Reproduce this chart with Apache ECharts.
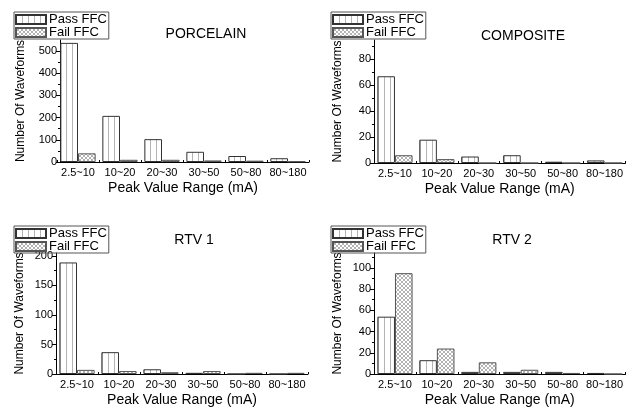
<!DOCTYPE html>
<html>
<head>
<meta charset="utf-8">
<script src="https://cdn.jsdelivr.net/npm/echarts@6/dist/echarts.min.js"></script>
<style>html,body{margin:0;padding:0;background:#fff}#c{width:626px;height:408px}</style>
</head>
<body>
<div id="c"></div>
<script>
const categories = ['2.5~10', '10~20', '20~30', '30~50', '50~80', '80~180'];
const panelTitles = ['PORCELAIN', 'COMPOSITE', 'RTV 1', 'RTV 2'];
const porcelainPass = [537, 208, 103, 46, 27, 17];
const porcelainFail = [39, 10, 10, 7, 6, 3];
const compositePass = [67, 18, 5, 6, 1, 2];
const compositeFail = [6, 3, 0, 0, 0, 0];
const rtv1Pass = [189, 37, 8, 2, 0, 0];
const rtv1Fail = [7, 5, 3, 5, 2, 2];
const rtv2Pass = [54, 13, 2, 2, 2, 1];
const rtv2Fail = [95, 24, 11, 4, 1, 0];
const porcelainTicks = [0, 100, 200, 300, 400, 500];
const compositeTicks = [0, 20, 40, 60, 80];
const rtv1Ticks = [0, 50, 100, 150, 200];
const rtv2Ticks = [0, 20, 40, 60, 80, 100];
const yMax = [550, 95, 205, 114];

const FONT = 'Liberation Sans, Arial, sans-serif';

function makePattern(kind) {
  const c = document.createElement('canvas');
  const s = kind === 'pass' ? 6 : 4;
  c.width = s; c.height = s;
  const g = c.getContext('2d');
  g.fillStyle = '#fff';
  g.fillRect(0, 0, s, s);
  if (kind === 'pass') {
    g.fillStyle = '#b4b4b4';
    g.fillRect(0, 0, 1, s);
  } else {
    g.strokeStyle = '#a0a0a0';
    g.lineWidth = 0.8;
    g.beginPath();
    g.moveTo(0, 0); g.lineTo(s, s);
    g.moveTo(s, 0); g.lineTo(0, s);
    g.stroke();
  }
  return { image: c, repeat: 'repeat' };
}
const passFill = makePattern('pass');
const failFill = makePattern('fail');

const panels = [
  { pass: porcelainPass, fail: porcelainFail, ticks: porcelainTicks, max: yMax[0],
    grid: { left: 57, top: 40, width: 252, height: 122 }, yOffset: -3, yGap: 33,
    legend: { left: 14, top: 12 }, title: [206, 34] },
  { pass: compositePass, fail: compositeFail, ticks: compositeTicks, max: yMax[1],
    grid: { left: 374, top: 40, width: 252, height: 123 }, yOffset: 0, yGap: 30,
    legend: { left: 331, top: 12 }, title: [523, 36] },
  { pass: rtv1Pass, fail: rtv1Fail, ticks: rtv1Ticks, max: yMax[2],
    grid: { left: 56, top: 253, width: 252, height: 122 }, yOffset: 0, yGap: 30,
    legend: { left: 14, top: 226 }, title: [194, 240] },
  { pass: rtv2Pass, fail: rtv2Fail, ticks: rtv2Ticks, max: yMax[3],
    grid: { left: 374, top: 253, width: 252, height: 122 }, yOffset: 0, yGap: 30,
    legend: { left: 331, top: 226 }, title: [512, 240] }
];

const option = {
  animation: false,
  backgroundColor: '#fff',
  textStyle: { fontFamily: FONT },
  grid: [], xAxis: [], yAxis: [], series: [], legend: [], graphic: []
};

panels.forEach((p, i) => {
  option.grid.push(Object.assign({ containLabel: false }, p.grid));
  const step = p.ticks[1] - p.ticks[0];
  const minor = [];
  for (let v = step / 2; v < p.max; v += step) minor.push(v);
  option.xAxis.push({
    gridIndex: i, type: 'category', data: categories,
    axisLine: { lineStyle: { color: '#000', width: 1 } },
    axisTick: { alignWithLabel: true, length: 4, lineStyle: { color: '#000' } },
    axisLabel: { interval: 0, fontSize: 11, color: '#000', margin: 5, fontFamily: FONT },
    name: 'Peak Value Range (mA)', nameLocation: 'middle', nameGap: 19,
    nameTextStyle: { fontSize: 14, color: '#000', fontFamily: FONT }
  });
  option.xAxis.push({
    gridIndex: i, type: 'value', min: 0, max: 6, interval: 1,
    axisLine: { show: false }, axisLabel: { show: false }, splitLine: { show: false },
    axisTick: { show: true, length: 2, lineStyle: { color: '#000' } }
  });
  option.yAxis.push({
    gridIndex: i, type: 'value', min: 0, max: p.max, position: 'left', offset: p.yOffset,
    axisLine: { show: true, lineStyle: { color: '#000', width: 1 } },
    axisTick: { show: true, length: 4, customValues: p.ticks, lineStyle: { color: '#000' } },
    axisLabel: { customValues: p.ticks, fontSize: 11, color: '#000', margin: 3, fontFamily: FONT },
    splitLine: { show: false },
    name: 'Number Of Waveforms', nameLocation: 'middle', nameGap: p.yGap,
    nameTextStyle: { fontSize: 12, color: '#000', fontFamily: FONT }
  });
  option.yAxis.push({
    gridIndex: i, type: 'value', min: 0, max: p.max, position: 'left', offset: p.yOffset,
    axisLine: { show: false }, axisLabel: { show: false }, splitLine: { show: false },
    axisTick: { show: true, length: 2, customValues: minor, lineStyle: { color: '#000' } }
  });
  const xi = i * 2, yi = i * 2;
  option.series.push({
    type: 'bar', name: 'Pass FFC', xAxisIndex: xi, yAxisIndex: yi, data: p.pass,
    barGap: '0%', barCategoryGap: '16%',
    itemStyle: { color: passFill, borderColor: '#333', borderWidth: 1 }
  });
  option.series.push({
    type: 'bar', name: 'Fail FFC', xAxisIndex: xi, yAxisIndex: yi, data: p.fail,
    barGap: '0%', barCategoryGap: '16%',
    itemStyle: { color: failFill, borderColor: '#555', borderWidth: 1 }
  });
  option.legend.push({
    left: p.legend.left, top: p.legend.top, orient: 'vertical',
    data: ['Pass FFC', 'Fail FFC'], icon: 'rect', itemWidth: 30, itemHeight: 9, itemGap: 0,
    borderColor: '#555', borderWidth: 1, padding: [1, 2, 0, 1], selectedMode: false,
    textStyle: { fontSize: 13, color: '#000', fontFamily: FONT, padding: [0, 0, 0, -2] }
  });
  option.graphic.push({
    type: 'text', x: p.title[0], y: p.title[1],
    style: { text: panelTitles[i], fontSize: 14, fontFamily: FONT, fill: '#000',
             textAlign: 'center', textVerticalAlign: 'middle' }
  });
});

const chart = echarts.init(document.getElementById('c'), null, { renderer: 'canvas' });
chart.setOption(option);
</script>
</body>
</html>
